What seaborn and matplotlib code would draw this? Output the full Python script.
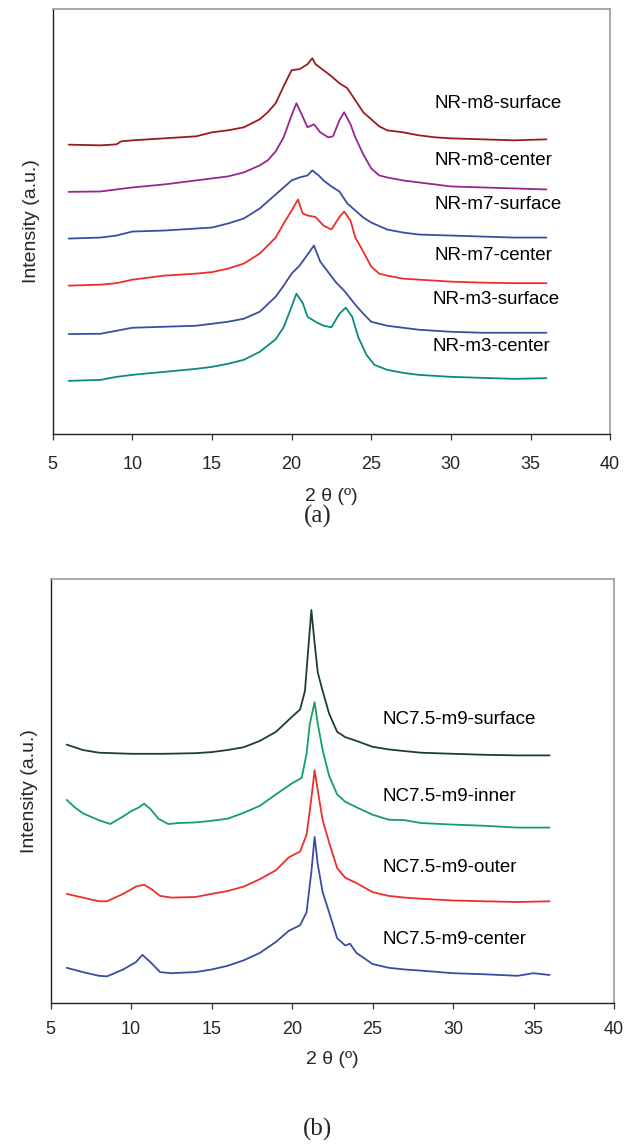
import numpy as np
import pandas as pd
import matplotlib
matplotlib.use("Agg")
import matplotlib.pyplot as plt
import seaborn as sns

# ---------------- Panel (a) data (2theta in degrees, intensity a.u., stacked) ----------------
a_m8_surface_x = [6, 8, 9, 9.3, 10, 12, 14, 15, 16, 17, 18, 18.5, 19, 19.5, 20, 20.5, 21, 21.3, 21.5, 22,
                  22.5, 23, 23.5, 24, 24.5, 25, 25.5, 26, 27, 28, 29, 30, 32, 34, 36]
a_m8_surface_y = [288.7, 288, 289, 292, 293, 295, 297, 301, 303, 306, 314, 321, 330, 347, 363, 364, 369, 375, 369, 363,
                  357, 350, 345, 333, 321, 314, 307, 303, 301, 298, 296, 295, 294, 293, 294]

a_m8_center_x = [6, 8, 10, 12, 14, 15, 16, 17, 18, 18.5, 19, 19.5, 20, 20.3, 20.6, 21, 21.4, 21.8, 22.3, 22.6,
                 23, 23.3, 23.7, 24, 24.5, 25, 25.5, 26, 27, 28, 29, 30, 32, 34, 36]
a_m8_center_y = [241.6, 242, 246, 249, 253, 255, 257, 261, 268, 273, 282, 296, 318, 330, 320, 306, 309, 301, 296, 297,
                 313, 321, 309, 296, 279, 265, 258, 256, 253, 251, 249, 247, 246, 245, 244]

a_m7_surface_x = [6, 8, 9, 10, 12, 14, 15, 16, 17, 18, 19, 19.5, 20, 20.5, 21, 21.3, 21.7, 22, 22.5, 23,
                  23.5, 24, 24.5, 25, 26, 27, 28, 30, 32, 34, 36]
a_m7_surface_y = [195, 196, 198, 202, 203, 205, 206, 210, 215, 225, 239, 246, 253, 256, 258, 263, 258, 253, 247, 242,
                  230, 223, 216, 211, 204, 201, 199, 198, 197, 196, 196]

a_m7_center_x = [6, 8, 9, 10, 12, 14, 15, 16, 17, 18, 19, 19.5, 20, 20.4, 20.7, 21, 21.5, 22, 22.5, 23,
                 23.3, 23.7, 24, 24.5, 25, 25.5, 26, 27, 28, 30, 32, 34, 36]
a_m7_center_y = [148, 149, 150.5, 154, 158, 160, 161.5, 165, 170, 180, 196, 210, 223, 234, 220, 218, 216.5, 208, 204, 216.5,
                 222, 213, 196, 182, 167, 160, 158, 155, 154, 152, 151, 150.5, 150.5]

a_m3_surface_x = [6, 8, 9, 10, 12, 14, 16, 17, 18, 19, 19.5, 20, 20.5, 21, 21.4, 21.8, 22.3, 22.8, 23.3, 24,
                  24.5, 25, 26, 27, 28, 30, 32, 34, 36]
a_m3_surface_y = [99.7, 100, 103, 106, 107, 108, 112, 115, 122, 137, 148, 160, 168, 179, 188, 172, 161.5, 151, 143, 129,
                  120, 112, 108, 106, 104, 102, 101, 101, 101]

a_m3_center_x = [6, 8, 9, 10, 12, 14, 15, 16, 17, 18, 19, 19.5, 20, 20.3, 20.7, 21, 21.5, 22, 22.5, 23,
                 23.4, 23.8, 24.2, 24.7, 25.2, 26, 27, 28, 30, 32, 34, 36]
a_m3_center_y = [53, 54, 57, 59, 62, 65, 67, 70, 74, 82, 94.5, 106.5, 127, 140, 130.6, 117, 112, 108, 106.5, 120,
                 126, 117, 96, 79, 69, 64, 61, 59, 57, 56, 55, 55.7]

a_names = ["NR-m8-surface", "NR-m8-center", "NR-m7-surface", "NR-m7-center", "NR-m3-surface", "NR-m3-center"]
a_label_y = [330, 273, 228.5, 178, 134, 87.6]
a_label_x = [29.0, 29.0, 29.0, 29.0, 28.87, 28.87]

# ---------------- Panel (b) data ----------------
b_surface_x = [6, 7, 8, 10, 12, 14, 15, 16, 17, 18, 19, 19.5, 20, 20.5, 20.8, 21, 21.2, 21.4, 21.6, 21.9,
               22.3, 22.8, 23.3, 24, 25, 26, 27, 28, 30, 32, 34, 36]
b_surface_y = [258.4, 253.0, 250.3, 249.2, 249.2, 249.8, 250.9, 253.0, 255.8, 262.1, 271.2, 278.7, 286.3, 293.5, 312.0,
               352.8, 393.0, 359.8, 330.3, 312.0, 289.5, 271.2, 265.9, 262.1, 256.2, 253.6, 251.9, 250.3, 249.2, 248.2,
               247.6, 247.6]

b_inner_x = [6, 6.5, 7, 8, 8.7, 9.5, 10, 10.5, 10.8, 11.2, 11.7, 12.3, 13, 14, 15, 16, 17, 18, 19, 20,
             20.6, 20.9, 21.1, 21.4, 21.6, 21.9, 22.3, 22.8, 23.3, 24, 25, 26, 27, 28, 30, 32, 34, 36]
b_inner_y = [203.1, 195.7, 189.7, 182.8, 179.0, 186.5, 191.8, 195.7, 199.3, 194.0, 184.3, 179.0, 180.0, 180.6, 182.2,
             184.3, 190.2, 197.2, 208.6, 219.7, 225.1, 249.2, 278.8, 300.9, 278.8, 253.0, 227.2, 208.6, 201.3, 195.7,
             188.3, 183.3, 182.8, 180.0, 178.4, 177.2, 175.4, 175.4]

b_outer_x = [6, 7, 8, 8.5, 9.5, 10.3, 10.8, 11.3, 11.8, 12.5, 14, 15, 16, 17, 18, 19, 19.8, 20.5, 20.9, 21.2,
             21.4, 21.6, 21.9, 22.3, 22.8, 23.3, 24, 25, 26, 27, 28, 30, 32, 34, 36]
b_outer_y = [109.1, 105.4, 101.7, 101.7, 109.1, 116.4, 118.3, 113.5, 107.1, 105.4, 106.0, 109.1, 112.0, 116.4, 123.8,
             132.8, 145.7, 151.5, 168.2, 204.7, 232.6, 212.2, 182.8, 160.7, 135.0, 125.3, 119.9, 110.9, 107.1, 105.4,
             104.3, 102.5, 101.7, 101.0, 101.7]

b_center_x = [6, 7, 8, 8.5, 9.5, 10.3, 10.7, 11.2, 11.8, 12.5, 14, 15, 16, 17, 18, 19, 19.8, 20.5, 20.9, 21.2,
              21.4, 21.6, 21.9, 22.3, 22.8, 23.3, 23.6, 24, 25, 26, 27, 28, 30, 32, 34, 35, 36]
b_center_y = [35.2, 30.9, 27.2, 26.6, 33.5, 40.9, 48.1, 40.9, 30.9, 29.8, 30.9, 33.5, 37.2, 42.7, 50.1, 61.1, 72.2,
              77.8, 90.7, 131.2, 166.1, 138.2, 110.9, 90.7, 64.8, 57.5, 59.3, 50.1, 39.0, 35.2, 33.5, 32.4, 29.8, 28.7,
              27.2, 29.8, 28.0]

b_names = ["NC7.5-m9-surface", "NC7.5-m9-inner", "NC7.5-m9-outer", "NC7.5-m9-center"]
b_label_y = [283, 206, 135, 63]
b_label_x = [25.6, 25.6, 25.6, 25.6]

x_ticks = [5, 10, 15, 20, 25, 30, 35, 40]

# ---------------- Styling ----------------
sns.set_theme(style="ticks")
plt.rcParams['font.family'] = ['Liberation Sans', 'DejaVu Sans']

a_colors = ["#9B1B20", "#98278F", "#3A4EA0", "#EE2D2D", "#3A4EA0", "#0A8A80"]
b_colors = ["#1C4030", "#12A063", "#EE2D2D", "#3A4EA0"]

fig = plt.figure(figsize=(6.32, 11.46), dpi=100)
ax_a = fig.add_axes([0.0834, 0.6213, 0.882, 0.3708])
ax_b = fig.add_axes([0.0801, 1 - 1003 / 1146, 0.8914, 424 / 1146])

a_series = [(a_m8_surface_x, a_m8_surface_y), (a_m8_center_x, a_m8_center_y),
            (a_m7_surface_x, a_m7_surface_y), (a_m7_center_x, a_m7_center_y),
            (a_m3_surface_x, a_m3_surface_y), (a_m3_center_x, a_m3_center_y)]
b_series = [(b_surface_x, b_surface_y), (b_inner_x, b_inner_y),
            (b_outer_x, b_outer_y), (b_center_x, b_center_y)]


def style_axes(ax, ytop, tpad, lpad):
    ax.set_xlim(5, 40)
    ax.set_ylim(0, ytop)
    ax.set_xticks(x_ticks)
    ax.set_xticklabels([str(t) for t in x_ticks], fontsize=13)
    ax.set_yticks([])
    ax.tick_params(axis='x', direction='out', length=4, width=0.9, color='#333333', pad=tpad)
    for s in ['left', 'bottom']:
        ax.spines[s].set_color('#222222')
        ax.spines[s].set_linewidth(1.0)
    for s in ['top', 'right']:
        ax.spines[s].set_visible(True)
        ax.spines[s].set_color('#9A9A9A')
        ax.spines[s].set_linewidth(1.2)
    ax.set_xlabel("2 θ (º)", fontsize=14, labelpad=lpad)
    ax.set_ylabel("Intensity (a.u.)", fontsize=14, labelpad=9)
    ax.set_facecolor('white')


for (xs, ys), c in zip(a_series, a_colors):
    sns.lineplot(x=xs, y=ys, ax=ax_a, color=c, linewidth=1.3, sort=False, estimator=None)
for name, lx, ly in zip(a_names, a_label_x, a_label_y):
    ax_a.text(lx, ly, name, fontsize=13.5, va='center', ha='left', color='black')
style_axes(ax_a, 424, 12, 11)

for (xs, ys), c in zip(b_series, b_colors):
    sns.lineplot(x=xs, y=ys, ax=ax_b, color=c, linewidth=1.3, sort=False, estimator=None)
for name, lx, ly in zip(b_names, b_label_x, b_label_y):
    ax_b.text(lx, ly, name, fontsize=13.5, va='center', ha='left', color='black')
style_axes(ax_b, 424, 9, 9)

serif = ['Liberation Serif', 'DejaVu Serif']
fig.text(318 / 632, 1 - 516 / 1146, "(a)", fontsize=18, ha='center', va='center', family=serif)
fig.text(318 / 632, 1 - 1129 / 1146, "(b)", fontsize=18, ha='center', va='center', family=serif)

fig.patch.set_facecolor('white')
fig.savefig("out.png", dpi=100, facecolor='white')
